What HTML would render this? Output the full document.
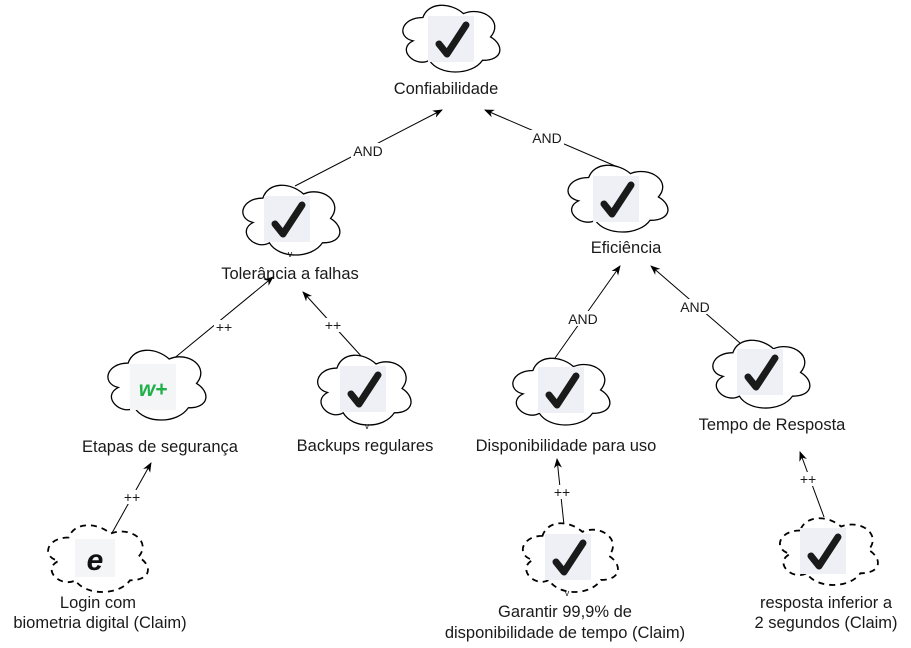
<!DOCTYPE html>
<html><head><meta charset="utf-8"><style>
html,body{margin:0;padding:0;background:#fff;}
svg{display:block;}
text{font-family:"Liberation Sans",Arial,sans-serif;fill:#1a1a1a;}
</style></head><body>
<svg width="911" height="648" viewBox="0 0 911 648" xmlns="http://www.w3.org/2000/svg">
<defs>
<marker id="ah" markerWidth="10" markerHeight="10" refX="9" refY="5" orient="auto" markerUnits="userSpaceOnUse">
<path d="M0,1 L10,5 L0,9 L3,5 Z" fill="#000"/>
</marker>
<path id="cl" vector-effect="non-scaling-stroke" d="M25,25 C5,25 0,50 16,55 C0,66 18,90 31,80 C40,100 70,100 80,80 C100,80 100,60 87.5,50 C100,30 80,10 62.5,20 C50,5 30,5 25,25 Z"/>
<g id="ck">
<rect x="0" y="0" width="46" height="46" fill="#eef0f6"/>
<path d="M11,28 L19,38 L38,9" fill="none" stroke="#1a1a1a" stroke-width="7" stroke-linecap="round" stroke-linejoin="round"/>
</g>
</defs>

<g stroke="#000" stroke-width="1" fill="none">
<line x1="295" y1="186" x2="442" y2="110" marker-end="url(#ah)"/>
<line x1="620" y1="168" x2="485" y2="110" marker-end="url(#ah)"/>
<line x1="172" y1="360" x2="273" y2="277" marker-end="url(#ah)"/>
<line x1="362" y1="357" x2="303" y2="292" marker-end="url(#ah)"/>
<line x1="555" y1="358" x2="620" y2="266" marker-end="url(#ah)"/>
<line x1="740" y1="343" x2="651" y2="266" marker-end="url(#ah)"/>
<line x1="112" y1="533" x2="151" y2="463" marker-end="url(#ah)"/>
<line x1="564" y1="525" x2="557" y2="459" marker-end="url(#ah)"/>
<line x1="824" y1="517" x2="800" y2="452" marker-end="url(#ah)"/>
</g>
<g font-size="14" text-anchor="middle">
<rect x="351" y="143" width="34" height="15" fill="#fff"/><text x="368" y="156">AND</text>
<rect x="530" y="130" width="34" height="15" fill="#fff"/><text x="547" y="143">AND</text>
<rect x="214" y="320" width="20" height="14" fill="#fff"/><text x="224" y="332">++</text>
<rect x="323" y="318" width="20" height="14" fill="#fff"/><text x="333" y="330">++</text>
<rect x="566" y="311" width="34" height="15" fill="#fff"/><text x="583" y="324">AND</text>
<rect x="678" y="299" width="34" height="15" fill="#fff"/><text x="695" y="312">AND</text>
<rect x="122" y="490" width="20" height="14" fill="#fff"/><text x="132" y="502">++</text>
<rect x="552" y="485" width="20" height="14" fill="#fff"/><text x="562" y="497">++</text>
<rect x="798" y="472" width="20" height="14" fill="#fff"/><text x="808" y="484">++</text>
</g>

<g fill="#fff" stroke="#000" stroke-width="1.3">
<use href="#cl" transform="translate(395.8,-2) scale(1.083,0.779)"/>
<use href="#cl" transform="translate(235.8,177.7) scale(1.083,0.814)"/>
<use href="#cl" transform="translate(560.8,158) scale(1.115,0.779)"/>
<use href="#cl" transform="translate(100.8,342.7) scale(1.094,0.814)"/>
<use href="#cl" transform="translate(310.9,347.7) scale(1.042,0.814)"/>
<use href="#cl" transform="translate(505.8,351) scale(1.083,0.779)"/>
<use href="#cl" transform="translate(705.8,332.9) scale(1.083,0.791)"/>
</g>
<g fill="#fff" stroke="#000" stroke-width="1.8" stroke-dasharray="6,5">
<use href="#cl" transform="translate(40.8,518) scale(1.115,0.779)"/>
<use href="#cl" transform="translate(515.9,515.8) scale(1.0625,0.802)"/>
<use href="#cl" transform="translate(772.8,511) scale(1.094,0.779)"/>
</g>

<use href="#ck" x="428" y="16"/>
<use href="#ck" x="264" y="196"/>
<use href="#ck" x="593" y="176"/>
<use href="#ck" x="340" y="366"/>
<use href="#ck" x="538" y="367"/>
<use href="#ck" x="737" y="349"/>
<use href="#ck" x="545" y="534"/>
<use href="#ck" x="800" y="528"/>
<rect x="130" y="364" width="46" height="46" fill="#f3f5f6"/>
<text x="153" y="396" font-size="21" font-weight="bold" font-style="italic" text-anchor="middle" style="fill:#1fb048">w+</text>
<rect x="75" y="539" width="40" height="38" fill="#f3f5f6"/>
<text x="95" y="570" font-size="30" font-weight="bold" font-style="italic" text-anchor="middle" font-family="Liberation Serif,serif" style="fill:#111">e</text>

<g font-size="9" text-anchor="middle">
<text x="290" y="257">v</text>
<text x="367" y="429">v</text>
<text x="567" y="596">v</text>
</g>

<g font-size="16.5" text-anchor="middle">
<text x="446" y="94">Confiabilidade</text>
<text x="290" y="279">Tolerância a falhas</text>
<text x="626" y="253">Eficiência</text>
<text x="160" y="452">Etapas de segurança</text>
<text x="365" y="451">Backups regulares</text>
<text x="566" y="451">Disponibilidade para uso</text>
<text x="772" y="430">Tempo de Resposta</text>
<text x="98" y="608">Login com</text>
<text x="100" y="628">biometria digital (Claim)</text>
<text x="565" y="617">Garantir 99,9% de</text>
<text x="565" y="638">disponibilidade de tempo (Claim)</text>
<text x="826" y="608">resposta inferior a</text>
<text x="826" y="628">2 segundos (Claim)</text>
</g>
</svg>
</body></html>
